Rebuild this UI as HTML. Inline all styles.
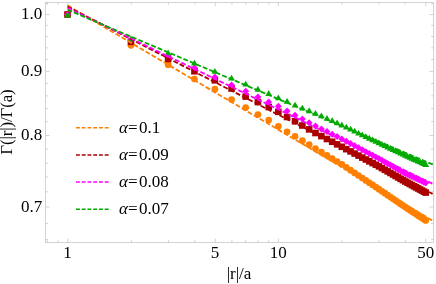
<!DOCTYPE html>
<html><head><meta charset="utf-8"><title>plot</title>
<style>
html,body{margin:0;padding:0;background:#fff;}
body{width:436px;height:284px;overflow:hidden;}
svg{display:block;}
.t{font-family:"Liberation Serif",serif;font-size:17px;fill:#000;}
svg{will-change:transform;opacity:0.999;}
</style></head><body>
<svg width="436" height="284" viewBox="0 0 436 284">
<rect width="436" height="284" fill="#fff"/>
<g stroke="#bcbcbc" stroke-width="0.65" fill="none">
<rect x="45.6" y="2.3" width="387.9" height="240.2"/>
<path d="M67.85 242.5v-4.0M67.85 2.3v4.0"/>
<path d="M215.23 242.5v-4.0M215.23 2.3v4.0"/>
<path d="M278.36 242.5v-4.0M278.36 2.3v4.0"/>
<path d="M425.74 242.5v-4.0M425.74 2.3v4.0"/>
<path d="M47.42 242.5v-2.4M47.42 2.3v2.4"/>
<path d="M58.20 242.5v-2.4M58.20 2.3v2.4"/>
<path d="M131.33 242.5v-2.4M131.33 2.3v2.4"/>
<path d="M168.46 242.5v-2.4M168.46 2.3v2.4"/>
<path d="M194.80 242.5v-2.4M194.80 2.3v2.4"/>
<path d="M231.93 242.5v-2.4M231.93 2.3v2.4"/>
<path d="M245.70 242.5v-2.4M245.70 2.3v2.4"/>
<path d="M257.93 242.5v-2.4M257.93 2.3v2.4"/>
<path d="M268.71 242.5v-2.4M268.71 2.3v2.4"/>
<path d="M341.84 242.5v-2.4M341.84 2.3v2.4"/>
<path d="M378.97 242.5v-2.4M378.97 2.3v2.4"/>
<path d="M405.31 242.5v-2.4M405.31 2.3v2.4"/>
<path d="M45.6 239.55h2.4M433.5 239.55h-2.4"/>
<path d="M45.6 223.44h2.4M433.5 223.44h-2.4"/>
<path d="M45.6 207.00h4.0M433.5 207.00h-4.0"/>
<path d="M45.6 191.79h2.4M433.5 191.79h-2.4"/>
<path d="M45.6 177.01h2.4M433.5 177.01h-2.4"/>
<path d="M45.6 163.21h2.4M433.5 163.21h-2.4"/>
<path d="M45.6 149.19h2.4M433.5 149.19h-2.4"/>
<path d="M45.6 135.53h4.0M433.5 135.53h-4.0"/>
<path d="M45.6 121.60h2.4M433.5 121.60h-2.4"/>
<path d="M45.6 108.60h2.4M433.5 108.60h-2.4"/>
<path d="M45.6 95.90h2.4M433.5 95.90h-2.4"/>
<path d="M45.6 83.49h2.4M433.5 83.49h-2.4"/>
<path d="M45.6 71.36h4.0M433.5 71.36h-4.0"/>
<path d="M45.6 59.50h2.4M433.5 59.50h-2.4"/>
<path d="M45.6 47.89h2.4M433.5 47.89h-2.4"/>
<path d="M45.6 36.53h2.4M433.5 36.53h-2.4"/>
<path d="M45.6 25.40h2.4M433.5 25.40h-2.4"/>
<path d="M45.6 14.50h4.0M433.5 14.50h-4.0"/>
<path d="M45.6 3.81h2.4M433.5 3.81h-2.4"/>
</g>
<g>
<circle cx="67.50" cy="14.50" r="3.35" fill="#ff8000"/>
<circle cx="130.98" cy="45.30" r="3.35" fill="#ff8000"/>
<circle cx="168.11" cy="64.70" r="3.35" fill="#ff8000"/>
<circle cx="194.45" cy="79.00" r="3.35" fill="#ff8000"/>
<circle cx="214.88" cy="89.20" r="3.35" fill="#ff8000"/>
<circle cx="231.58" cy="99.60" r="3.35" fill="#ff8000"/>
<circle cx="245.70" cy="107.50" r="3.35" fill="#ff8000"/>
<circle cx="257.93" cy="114.50" r="3.35" fill="#ff8000"/>
<circle cx="268.71" cy="120.00" r="3.35" fill="#ff8000"/>
<circle cx="278.36" cy="126.25" r="3.35" fill="#ff8000"/>
<circle cx="287.09" cy="131.75" r="3.35" fill="#ff8000"/>
<circle cx="295.06" cy="136.25" r="3.35" fill="#ff8000"/>
<circle cx="302.39" cy="140.64" r="3.35" fill="#ff8000"/>
<circle cx="309.17" cy="144.71" r="3.35" fill="#ff8000"/>
<circle cx="315.49" cy="148.50" r="3.35" fill="#ff8000"/>
<circle cx="321.40" cy="152.04" r="3.35" fill="#ff8000"/>
<circle cx="326.95" cy="155.37" r="3.35" fill="#ff8000"/>
<circle cx="332.19" cy="158.51" r="3.35" fill="#ff8000"/>
<circle cx="337.14" cy="161.48" r="3.35" fill="#ff8000"/>
<circle cx="341.84" cy="164.30" r="3.35" fill="#ff8000"/>
<circle cx="346.30" cy="167.30" r="3.35" fill="#ff8000"/>
<circle cx="350.56" cy="170.15" r="3.35" fill="#ff8000"/>
<circle cx="354.63" cy="172.88" r="3.35" fill="#ff8000"/>
<circle cx="358.53" cy="175.50" r="3.35" fill="#ff8000"/>
<circle cx="362.27" cy="178.00" r="3.35" fill="#ff8000"/>
<circle cx="365.86" cy="180.41" r="3.35" fill="#ff8000"/>
<circle cx="369.32" cy="182.73" r="3.35" fill="#ff8000"/>
<circle cx="372.65" cy="184.96" r="3.35" fill="#ff8000"/>
<circle cx="375.86" cy="187.12" r="3.35" fill="#ff8000"/>
<circle cx="378.97" cy="189.20" r="3.35" fill="#ff8000"/>
<circle cx="381.97" cy="191.24" r="3.35" fill="#ff8000"/>
<circle cx="384.88" cy="193.22" r="3.35" fill="#ff8000"/>
<circle cx="387.69" cy="195.13" r="3.35" fill="#ff8000"/>
<circle cx="390.43" cy="196.99" r="3.35" fill="#ff8000"/>
<circle cx="393.08" cy="198.79" r="3.35" fill="#ff8000"/>
<circle cx="395.66" cy="200.54" r="3.35" fill="#ff8000"/>
<circle cx="398.17" cy="202.25" r="3.35" fill="#ff8000"/>
<circle cx="400.61" cy="203.91" r="3.35" fill="#ff8000"/>
<circle cx="402.99" cy="205.52" r="3.35" fill="#ff8000"/>
<circle cx="405.31" cy="207.10" r="3.35" fill="#ff8000"/>
<circle cx="407.57" cy="208.57" r="3.35" fill="#ff8000"/>
<circle cx="409.78" cy="210.01" r="3.35" fill="#ff8000"/>
<circle cx="411.93" cy="211.41" r="3.35" fill="#ff8000"/>
<circle cx="414.04" cy="212.78" r="3.35" fill="#ff8000"/>
<circle cx="416.10" cy="214.12" r="3.35" fill="#ff8000"/>
<circle cx="418.11" cy="215.43" r="3.35" fill="#ff8000"/>
<circle cx="420.08" cy="216.71" r="3.35" fill="#ff8000"/>
<circle cx="422.01" cy="217.97" r="3.35" fill="#ff8000"/>
<circle cx="423.89" cy="219.20" r="3.35" fill="#ff8000"/>
<circle cx="425.74" cy="220.40" r="3.35" fill="#ff8000"/>
</g>
<g>
<rect x="64.20" y="11.20" width="6.6" height="6.6" fill="#aa0000"/>
<rect x="127.68" y="38.50" width="6.6" height="6.6" fill="#aa0000"/>
<rect x="164.81" y="55.70" width="6.6" height="6.6" fill="#aa0000"/>
<rect x="191.15" y="67.95" width="6.6" height="6.6" fill="#aa0000"/>
<rect x="211.58" y="77.00" width="6.6" height="6.6" fill="#aa0000"/>
<rect x="228.28" y="85.20" width="6.6" height="6.6" fill="#aa0000"/>
<rect x="242.40" y="93.30" width="6.6" height="6.6" fill="#aa0000"/>
<rect x="254.63" y="98.80" width="6.6" height="6.6" fill="#aa0000"/>
<rect x="265.41" y="103.70" width="6.6" height="6.6" fill="#aa0000"/>
<rect x="275.06" y="108.50" width="6.6" height="6.6" fill="#aa0000"/>
<rect x="283.79" y="113.70" width="6.6" height="6.6" fill="#aa0000"/>
<rect x="291.76" y="118.00" width="6.6" height="6.6" fill="#aa0000"/>
<rect x="299.09" y="122.20" width="6.6" height="6.6" fill="#aa0000"/>
<rect x="305.87" y="126.08" width="6.6" height="6.6" fill="#aa0000"/>
<rect x="312.19" y="129.70" width="6.6" height="6.6" fill="#aa0000"/>
<rect x="318.10" y="132.80" width="6.6" height="6.6" fill="#aa0000"/>
<rect x="323.65" y="135.70" width="6.6" height="6.6" fill="#aa0000"/>
<rect x="328.89" y="138.45" width="6.6" height="6.6" fill="#aa0000"/>
<rect x="333.84" y="141.04" width="6.6" height="6.6" fill="#aa0000"/>
<rect x="338.54" y="143.50" width="6.6" height="6.6" fill="#aa0000"/>
<rect x="343.00" y="145.86" width="6.6" height="6.6" fill="#aa0000"/>
<rect x="347.26" y="148.11" width="6.6" height="6.6" fill="#aa0000"/>
<rect x="351.33" y="150.26" width="6.6" height="6.6" fill="#aa0000"/>
<rect x="355.23" y="152.31" width="6.6" height="6.6" fill="#aa0000"/>
<rect x="358.97" y="154.29" width="6.6" height="6.6" fill="#aa0000"/>
<rect x="362.56" y="156.18" width="6.6" height="6.6" fill="#aa0000"/>
<rect x="366.02" y="158.01" width="6.6" height="6.6" fill="#aa0000"/>
<rect x="369.35" y="159.76" width="6.6" height="6.6" fill="#aa0000"/>
<rect x="372.56" y="161.46" width="6.6" height="6.6" fill="#aa0000"/>
<rect x="375.67" y="163.10" width="6.6" height="6.6" fill="#aa0000"/>
<rect x="378.67" y="164.82" width="6.6" height="6.6" fill="#aa0000"/>
<rect x="381.58" y="166.49" width="6.6" height="6.6" fill="#aa0000"/>
<rect x="384.39" y="168.10" width="6.6" height="6.6" fill="#aa0000"/>
<rect x="387.13" y="169.67" width="6.6" height="6.6" fill="#aa0000"/>
<rect x="389.78" y="171.19" width="6.6" height="6.6" fill="#aa0000"/>
<rect x="392.36" y="172.67" width="6.6" height="6.6" fill="#aa0000"/>
<rect x="394.87" y="174.11" width="6.6" height="6.6" fill="#aa0000"/>
<rect x="397.31" y="175.51" width="6.6" height="6.6" fill="#aa0000"/>
<rect x="399.69" y="176.87" width="6.6" height="6.6" fill="#aa0000"/>
<rect x="402.01" y="178.20" width="6.6" height="6.6" fill="#aa0000"/>
<rect x="404.27" y="179.43" width="6.6" height="6.6" fill="#aa0000"/>
<rect x="406.48" y="180.63" width="6.6" height="6.6" fill="#aa0000"/>
<rect x="408.63" y="181.80" width="6.6" height="6.6" fill="#aa0000"/>
<rect x="410.74" y="182.94" width="6.6" height="6.6" fill="#aa0000"/>
<rect x="412.80" y="184.06" width="6.6" height="6.6" fill="#aa0000"/>
<rect x="414.81" y="185.15" width="6.6" height="6.6" fill="#aa0000"/>
<rect x="416.78" y="186.22" width="6.6" height="6.6" fill="#aa0000"/>
<rect x="418.71" y="187.27" width="6.6" height="6.6" fill="#aa0000"/>
<rect x="420.59" y="188.30" width="6.6" height="6.6" fill="#aa0000"/>
<rect x="422.44" y="189.30" width="6.6" height="6.6" fill="#aa0000"/>
</g>
<g>
<path d="M67.50 11.00l3.4 3.5l-3.4 3.5l-3.4 -3.5z" fill="#ff00ff"/>
<path d="M130.98 36.50l3.4 3.5l-3.4 3.5l-3.4 -3.5z" fill="#ff00ff"/>
<path d="M168.11 52.00l3.4 3.5l-3.4 3.5l-3.4 -3.5z" fill="#ff00ff"/>
<path d="M194.45 64.25l3.4 3.5l-3.4 3.5l-3.4 -3.5z" fill="#ff00ff"/>
<path d="M214.88 73.50l3.4 3.5l-3.4 3.5l-3.4 -3.5z" fill="#ff00ff"/>
<path d="M231.58 81.50l3.4 3.5l-3.4 3.5l-3.4 -3.5z" fill="#ff00ff"/>
<path d="M245.70 87.75l3.4 3.5l-3.4 3.5l-3.4 -3.5z" fill="#ff00ff"/>
<path d="M257.93 93.50l3.4 3.5l-3.4 3.5l-3.4 -3.5z" fill="#ff00ff"/>
<path d="M268.71 98.50l3.4 3.5l-3.4 3.5l-3.4 -3.5z" fill="#ff00ff"/>
<path d="M278.36 102.75l3.4 3.5l-3.4 3.5l-3.4 -3.5z" fill="#ff00ff"/>
<path d="M287.09 107.50l3.4 3.5l-3.4 3.5l-3.4 -3.5z" fill="#ff00ff"/>
<path d="M295.06 111.70l3.4 3.5l-3.4 3.5l-3.4 -3.5z" fill="#ff00ff"/>
<path d="M302.39 115.57l3.4 3.5l-3.4 3.5l-3.4 -3.5z" fill="#ff00ff"/>
<path d="M309.17 119.16l3.4 3.5l-3.4 3.5l-3.4 -3.5z" fill="#ff00ff"/>
<path d="M315.49 122.50l3.4 3.5l-3.4 3.5l-3.4 -3.5z" fill="#ff00ff"/>
<path d="M321.40 125.39l3.4 3.5l-3.4 3.5l-3.4 -3.5z" fill="#ff00ff"/>
<path d="M326.95 128.11l3.4 3.5l-3.4 3.5l-3.4 -3.5z" fill="#ff00ff"/>
<path d="M332.19 130.68l3.4 3.5l-3.4 3.5l-3.4 -3.5z" fill="#ff00ff"/>
<path d="M337.14 133.10l3.4 3.5l-3.4 3.5l-3.4 -3.5z" fill="#ff00ff"/>
<path d="M341.84 135.40l3.4 3.5l-3.4 3.5l-3.4 -3.5z" fill="#ff00ff"/>
<path d="M346.30 137.77l3.4 3.5l-3.4 3.5l-3.4 -3.5z" fill="#ff00ff"/>
<path d="M350.56 140.03l3.4 3.5l-3.4 3.5l-3.4 -3.5z" fill="#ff00ff"/>
<path d="M354.63 142.19l3.4 3.5l-3.4 3.5l-3.4 -3.5z" fill="#ff00ff"/>
<path d="M358.53 144.26l3.4 3.5l-3.4 3.5l-3.4 -3.5z" fill="#ff00ff"/>
<path d="M362.27 146.24l3.4 3.5l-3.4 3.5l-3.4 -3.5z" fill="#ff00ff"/>
<path d="M365.86 148.15l3.4 3.5l-3.4 3.5l-3.4 -3.5z" fill="#ff00ff"/>
<path d="M369.32 149.98l3.4 3.5l-3.4 3.5l-3.4 -3.5z" fill="#ff00ff"/>
<path d="M372.65 151.75l3.4 3.5l-3.4 3.5l-3.4 -3.5z" fill="#ff00ff"/>
<path d="M375.86 153.45l3.4 3.5l-3.4 3.5l-3.4 -3.5z" fill="#ff00ff"/>
<path d="M378.97 155.10l3.4 3.5l-3.4 3.5l-3.4 -3.5z" fill="#ff00ff"/>
<path d="M381.97 156.79l3.4 3.5l-3.4 3.5l-3.4 -3.5z" fill="#ff00ff"/>
<path d="M384.88 158.42l3.4 3.5l-3.4 3.5l-3.4 -3.5z" fill="#ff00ff"/>
<path d="M387.69 160.00l3.4 3.5l-3.4 3.5l-3.4 -3.5z" fill="#ff00ff"/>
<path d="M390.43 161.54l3.4 3.5l-3.4 3.5l-3.4 -3.5z" fill="#ff00ff"/>
<path d="M393.08 163.03l3.4 3.5l-3.4 3.5l-3.4 -3.5z" fill="#ff00ff"/>
<path d="M395.66 164.48l3.4 3.5l-3.4 3.5l-3.4 -3.5z" fill="#ff00ff"/>
<path d="M398.17 165.89l3.4 3.5l-3.4 3.5l-3.4 -3.5z" fill="#ff00ff"/>
<path d="M400.61 167.26l3.4 3.5l-3.4 3.5l-3.4 -3.5z" fill="#ff00ff"/>
<path d="M402.99 168.60l3.4 3.5l-3.4 3.5l-3.4 -3.5z" fill="#ff00ff"/>
<path d="M405.31 169.90l3.4 3.5l-3.4 3.5l-3.4 -3.5z" fill="#ff00ff"/>
<path d="M407.57 170.96l3.4 3.5l-3.4 3.5l-3.4 -3.5z" fill="#ff00ff"/>
<path d="M409.78 172.00l3.4 3.5l-3.4 3.5l-3.4 -3.5z" fill="#ff00ff"/>
<path d="M411.93 173.01l3.4 3.5l-3.4 3.5l-3.4 -3.5z" fill="#ff00ff"/>
<path d="M414.04 174.00l3.4 3.5l-3.4 3.5l-3.4 -3.5z" fill="#ff00ff"/>
<path d="M416.10 174.97l3.4 3.5l-3.4 3.5l-3.4 -3.5z" fill="#ff00ff"/>
<path d="M418.11 175.91l3.4 3.5l-3.4 3.5l-3.4 -3.5z" fill="#ff00ff"/>
<path d="M420.08 176.84l3.4 3.5l-3.4 3.5l-3.4 -3.5z" fill="#ff00ff"/>
<path d="M422.01 177.74l3.4 3.5l-3.4 3.5l-3.4 -3.5z" fill="#ff00ff"/>
<path d="M423.89 178.63l3.4 3.5l-3.4 3.5l-3.4 -3.5z" fill="#ff00ff"/>
<path d="M425.74 179.50l3.4 3.5l-3.4 3.5l-3.4 -3.5z" fill="#ff00ff"/>
</g>
<g>
<path d="M67.50 11.60l3.4 5.8l-6.8 0z" fill="#00aa00"/>
<path d="M130.98 35.60l3.4 5.8l-6.8 0z" fill="#00aa00"/>
<path d="M168.11 49.50l3.4 5.8l-6.8 0z" fill="#00aa00"/>
<path d="M194.45 59.80l3.4 5.8l-6.8 0z" fill="#00aa00"/>
<path d="M214.88 68.00l3.4 5.8l-6.8 0z" fill="#00aa00"/>
<path d="M231.58 74.80l3.4 5.8l-6.8 0z" fill="#00aa00"/>
<path d="M245.70 80.70l3.4 5.8l-6.8 0z" fill="#00aa00"/>
<path d="M257.93 85.85l3.4 5.8l-6.8 0z" fill="#00aa00"/>
<path d="M268.71 90.10l3.4 5.8l-6.8 0z" fill="#00aa00"/>
<path d="M278.36 94.40l3.4 5.8l-6.8 0z" fill="#00aa00"/>
<path d="M287.09 97.90l3.4 5.8l-6.8 0z" fill="#00aa00"/>
<path d="M295.06 101.70l3.4 5.8l-6.8 0z" fill="#00aa00"/>
<path d="M302.39 104.64l3.4 5.8l-6.8 0z" fill="#00aa00"/>
<path d="M309.17 107.36l3.4 5.8l-6.8 0z" fill="#00aa00"/>
<path d="M315.49 109.90l3.4 5.8l-6.8 0z" fill="#00aa00"/>
<path d="M321.40 112.52l3.4 5.8l-6.8 0z" fill="#00aa00"/>
<path d="M326.95 114.99l3.4 5.8l-6.8 0z" fill="#00aa00"/>
<path d="M332.19 117.31l3.4 5.8l-6.8 0z" fill="#00aa00"/>
<path d="M337.14 119.51l3.4 5.8l-6.8 0z" fill="#00aa00"/>
<path d="M341.84 121.60l3.4 5.8l-6.8 0z" fill="#00aa00"/>
<path d="M346.30 123.75l3.4 5.8l-6.8 0z" fill="#00aa00"/>
<path d="M350.56 125.81l3.4 5.8l-6.8 0z" fill="#00aa00"/>
<path d="M354.63 127.77l3.4 5.8l-6.8 0z" fill="#00aa00"/>
<path d="M358.53 129.65l3.4 5.8l-6.8 0z" fill="#00aa00"/>
<path d="M362.27 131.45l3.4 5.8l-6.8 0z" fill="#00aa00"/>
<path d="M365.86 133.18l3.4 5.8l-6.8 0z" fill="#00aa00"/>
<path d="M369.32 134.85l3.4 5.8l-6.8 0z" fill="#00aa00"/>
<path d="M372.65 136.45l3.4 5.8l-6.8 0z" fill="#00aa00"/>
<path d="M375.86 138.00l3.4 5.8l-6.8 0z" fill="#00aa00"/>
<path d="M378.97 139.50l3.4 5.8l-6.8 0z" fill="#00aa00"/>
<path d="M381.97 140.91l3.4 5.8l-6.8 0z" fill="#00aa00"/>
<path d="M384.88 142.28l3.4 5.8l-6.8 0z" fill="#00aa00"/>
<path d="M387.69 143.61l3.4 5.8l-6.8 0z" fill="#00aa00"/>
<path d="M390.43 144.89l3.4 5.8l-6.8 0z" fill="#00aa00"/>
<path d="M393.08 146.14l3.4 5.8l-6.8 0z" fill="#00aa00"/>
<path d="M395.66 147.36l3.4 5.8l-6.8 0z" fill="#00aa00"/>
<path d="M398.17 148.54l3.4 5.8l-6.8 0z" fill="#00aa00"/>
<path d="M400.61 149.69l3.4 5.8l-6.8 0z" fill="#00aa00"/>
<path d="M402.99 150.81l3.4 5.8l-6.8 0z" fill="#00aa00"/>
<path d="M405.31 151.90l3.4 5.8l-6.8 0z" fill="#00aa00"/>
<path d="M407.57 152.92l3.4 5.8l-6.8 0z" fill="#00aa00"/>
<path d="M409.78 153.91l3.4 5.8l-6.8 0z" fill="#00aa00"/>
<path d="M411.93 154.88l3.4 5.8l-6.8 0z" fill="#00aa00"/>
<path d="M414.04 155.83l3.4 5.8l-6.8 0z" fill="#00aa00"/>
<path d="M416.10 156.76l3.4 5.8l-6.8 0z" fill="#00aa00"/>
<path d="M418.11 157.66l3.4 5.8l-6.8 0z" fill="#00aa00"/>
<path d="M420.08 158.55l3.4 5.8l-6.8 0z" fill="#00aa00"/>
<path d="M422.01 159.42l3.4 5.8l-6.8 0z" fill="#00aa00"/>
<path d="M423.89 160.27l3.4 5.8l-6.8 0z" fill="#00aa00"/>
<path d="M425.74 161.10l3.4 5.8l-6.8 0z" fill="#00aa00"/>
</g>
<path d="M67.5 5.4L432.6 220.64" stroke="#ff8000" stroke-width="1.8" stroke-dasharray="4.9 2.0747" fill="none"/>
<path d="M67.5 6.6L432.6 193.85" stroke="#aa0000" stroke-width="1.8" stroke-dasharray="4.9 2.1047" fill="none"/>
<path d="M67.5 7.8L432.6 183.75" stroke="#ff00ff" stroke-width="1.8" stroke-dasharray="4.9 2.1207" fill="none"/>
<path d="M67.5 9.7L433.2 164.67" stroke="#00aa00" stroke-width="1.8" stroke-dasharray="4.9 2.0975" fill="none"/>
<path d="M76.0 127.70H108.6" stroke="#ff8000" stroke-width="1.5" stroke-dasharray="3.9 1.84" fill="none"/>
<text x="119" y="133" class="t"><tspan font-style="italic">α</tspan>=<tspan dx="1.4">0.1</tspan></text>
<path d="M76.0 154.90H108.6" stroke="#aa0000" stroke-width="1.5" stroke-dasharray="3.9 1.84" fill="none"/>
<text x="119" y="160" class="t"><tspan font-style="italic">α</tspan>=<tspan dx="1.4">0.09</tspan></text>
<path d="M76.0 182.10H108.6" stroke="#ff00ff" stroke-width="1.5" stroke-dasharray="3.9 1.84" fill="none"/>
<text x="119" y="187" class="t"><tspan font-style="italic">α</tspan>=<tspan dx="1.4">0.08</tspan></text>
<path d="M76.0 209.30H108.6" stroke="#00aa00" stroke-width="1.5" stroke-dasharray="3.9 1.84" fill="none"/>
<text x="119" y="214" class="t"><tspan font-style="italic">α</tspan>=<tspan dx="1.4">0.07</tspan></text>
<text x="67.50" y="258" text-anchor="middle" class="t">1</text>
<text x="214.88" y="258" text-anchor="middle" class="t">5</text>
<text x="278.36" y="258" text-anchor="middle" class="t">10</text>
<text x="425.74" y="258" text-anchor="middle" class="t">50</text>
<text x="42.3" y="19" text-anchor="end" class="t">1.0</text>
<text x="42.3" y="76" text-anchor="end" class="t">0.9</text>
<text x="42.3" y="140" text-anchor="end" class="t">0.8</text>
<text x="42.3" y="212" text-anchor="end" class="t">0.7</text>
<text x="239.0" y="279.3" text-anchor="middle" class="t">|r|/a</text>
<text transform="translate(12.3 122.0) rotate(-90)" text-anchor="middle" textLength="65.6" lengthAdjust="spacing" class="t">Γ(|r|)/Γ(a)</text>
</svg>
</body></html>
